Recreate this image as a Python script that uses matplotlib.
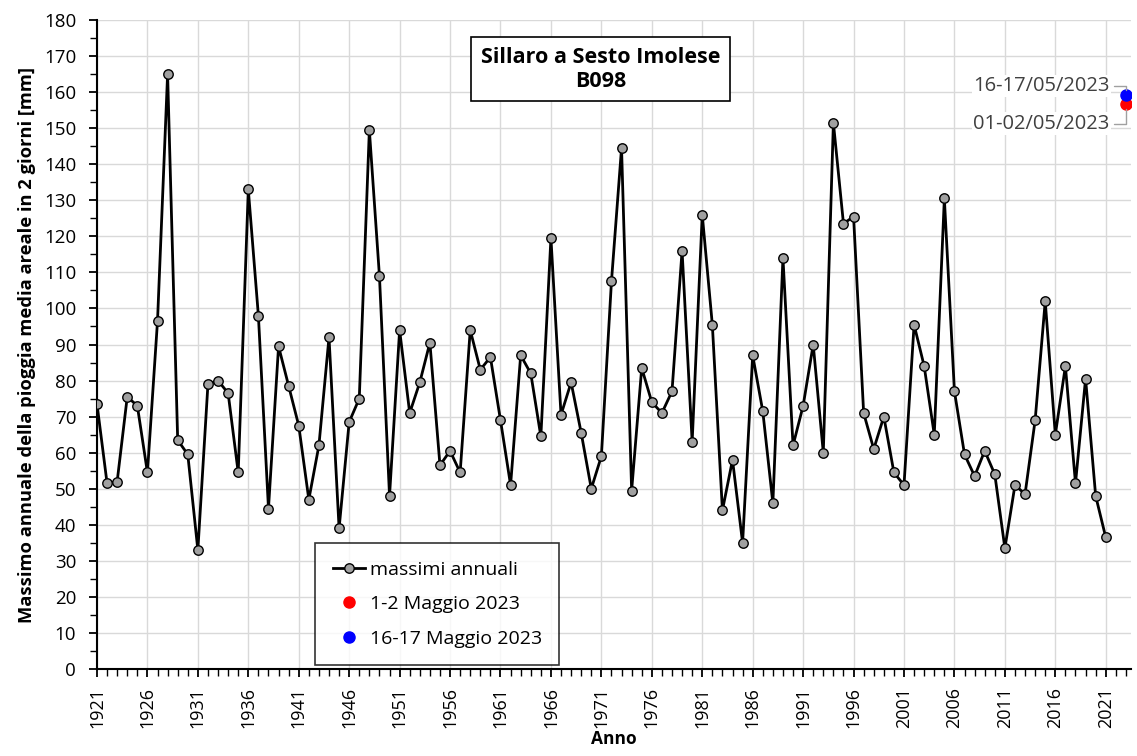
import numpy as np
import matplotlib
matplotlib.use("Agg")
import matplotlib.pyplot as plt
from matplotlib.ticker import MultipleLocator, FixedLocator

plt.rcParams["font.family"] = ["Open Sans", "DejaVu Sans"]

# annual maxima of 2-day areal rainfall [mm]
years = list(range(1921, 2022))
massimi = [
    73.5, 51.5, 52, 75.5, 73, 54.5, 96.5, 165, 63.5, 59.5,
    33, 79, 80, 76.5, 54.5, 133, 98, 44.5, 89.5, 78.5,
    67.5, 47, 62, 92, 39, 68.5, 75, 149.5, 109, 48,
    94, 71, 79.5, 90.5, 56.5, 60.5, 54.5, 94, 83, 86.5,
    69, 51, 87, 82, 64.5, 119.5, 70.5, 79.5, 65.5, 50,
    59, 107.5, 144.5, 49.5, 83.5, 74, 71, 77, 116, 63,
    126, 95.5, 44, 58, 35, 87, 71.5, 46, 114, 62,
    73, 90, 60, 151.5, 123.5, 125.5, 71, 61, 70, 54.5,
    51, 95.5, 84, 65, 130.5, 77, 59.5, 53.5, 60.5, 54,
    33.5, 51, 48.5, 69, 102, 65, 84, 51.5, 80.5, 48,
    36.5,
]

evento_anno = 2023
maggio_1_2 = 156.8
maggio_16_17 = 159.1

x_ticks = list(range(1921, 2022, 5))

fig = plt.figure(figsize=(11.37, 7.56), dpi=100)
ax = fig.add_axes([0.0853, 0.1151, 0.9094, 0.8584])

ax.plot(years, massimi, color="black", lw=2.0, marker="o", ms=6.8,
        mfc="#a0a0a0", mec="black", mew=1.0, label="massimi annuali", zorder=3)
ax.plot([evento_anno], [maggio_1_2], "o", color="#ff0000", ms=8,
        label="1-2 Maggio 2023", zorder=4)
ax.plot([evento_anno], [maggio_16_17], "o", color="#0000ff", ms=8,
        label="16-17 Maggio 2023", zorder=5)

ax.set_xlim(1921, 2023.5)
ax.set_ylim(0, 180)
ax.xaxis.set_major_locator(FixedLocator(x_ticks))
ax.xaxis.set_minor_locator(MultipleLocator(1))
ax.yaxis.set_major_locator(MultipleLocator(10))
ax.yaxis.set_minor_locator(MultipleLocator(5))
ax.tick_params(axis="x", which="major", labelrotation=90, labelsize=13,
               length=6, width=1.3, direction="out", pad=7)
ax.tick_params(axis="x", which="minor", length=5, width=1, direction="out")
ax.tick_params(axis="y", which="major", labelsize=13.5, length=6, width=1.3,
               pad=9)
ax.tick_params(axis="y", which="minor", length=5, width=1)
ax.grid(True, which="major", color="#d9d9d9", lw=1, zorder=0)
ax.set_axisbelow(True)
for side in ["top", "right"]:
    ax.spines[side].set_visible(False)
for side in ["left", "bottom"]:
    ax.spines[side].set_linewidth(1.5)

ax.set_xlabel("Anno", fontsize=12.5, fontweight="bold", labelpad=1)
ax.set_ylabel("Massimo annuale della pioggia media areale in 2 giorni [mm]",
              fontsize=13.2, fontweight="bold", labelpad=6)

ax.text(0.487, 0.924, "Sillaro a Sesto Imolese\nB098", transform=ax.transAxes,
        ha="center", va="center", fontsize=15.5, fontweight="bold",
        linespacing=1.15,
        bbox=dict(boxstyle="square,pad=0.45", fc="white", ec="black", lw=1.2),
        zorder=6)

lbl_color = "#404040"
ax.annotate("16-17/05/2023", xy=(evento_anno, maggio_16_17),
            xytext=(2021.4, 161.7), ha="right", va="center", fontsize=14.5,
            color=lbl_color, bbox=dict(fc="white", ec="none", pad=1),
            arrowprops=dict(arrowstyle="-", color="#a0a0a0", lw=1,
                            shrinkA=2, shrinkB=4,
                            connectionstyle="angle,angleA=0,angleB=90,rad=0"),
            zorder=6)
ax.annotate("01-02/05/2023", xy=(evento_anno, maggio_1_2),
            xytext=(2021.4, 151.2), ha="right", va="center", fontsize=14.5,
            color=lbl_color, bbox=dict(fc="white", ec="none", pad=1),
            arrowprops=dict(arrowstyle="-", color="#a0a0a0", lw=1,
                            shrinkA=2, shrinkB=4,
                            connectionstyle="angle,angleA=0,angleB=90,rad=0"),
            zorder=6)

leg = ax.legend(loc="lower left", bbox_to_anchor=(0.211, 0.006), fontsize=14,
                frameon=True, fancybox=False, edgecolor="black",
                handlelength=1.65, handletextpad=0.25, borderpad=0.9,
                labelspacing=0.85, borderaxespad=0)
leg.get_frame().set_linewidth(1.2)

fig.savefig("out.png", dpi=100)
